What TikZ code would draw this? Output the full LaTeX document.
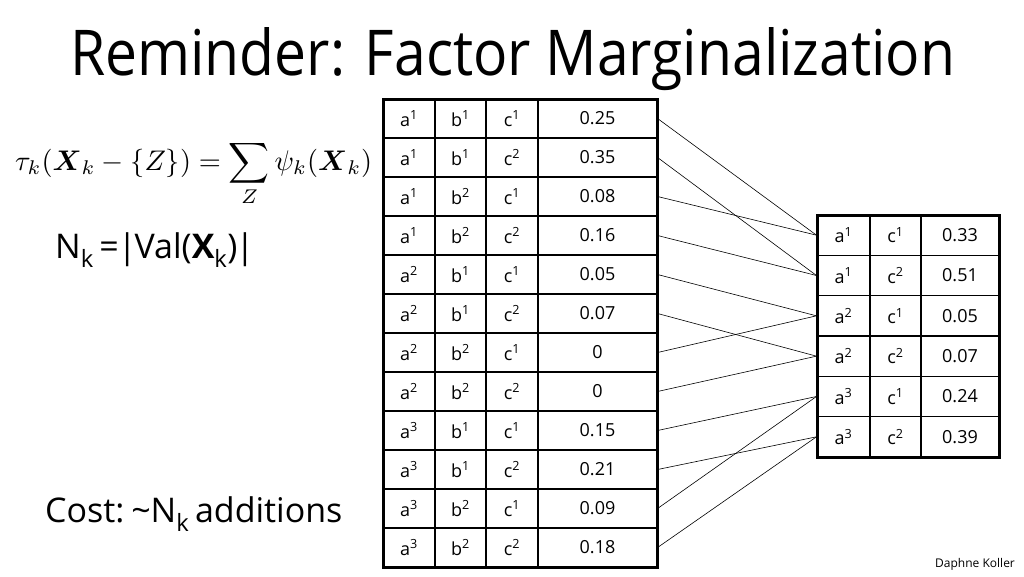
\documentclass[tikz,border=0pt]{standalone}
\usepackage{amsmath}
\usepackage{fontspec}
\setmainfont{Open Sans}
\begin{document}
\begin{tikzpicture}[x=1pt,y=-1pt,
  cell/.style={draw, line width=1.1pt, minimum height=39pt, inner sep=0pt,
               font=\fontsize{18}{18}\selectfont},
  rcell/.style={cell, minimum height=40.33pt},
  border/.style={draw, line width=3pt},
  link/.style={draw, line width=0.6pt},
  txt/.style={inner sep=0pt, anchor=base west}]
\useasboundingbox[fill=white] (0,0) rectangle (1024,576);

% title
\node[txt] (title) at (70,75) {\resizebox{885pt}{48pt}{Reminder: Factor Marginalization}};

% formula
\node[txt] (formula) at (15,170) {\resizebox{357pt}{!}{$\displaystyle \tau_k(\boldsymbol{X}_k-\{Z\})=\sum_Z \psi_k(\boldsymbol{X}_k)$}};

\node[txt, font=\fontsize{34}{34}\selectfont] (nk) at (55,258)
  {N\textsubscript{k}\,=\kern-1pt|\kern-2pt Val(\textbf{X}\textsubscript{k})\kern-2pt|};
\node[txt, font=\fontsize{34}{34}\selectfont] (cost) at (45,522)
  {Cost:\kern-2pt\ \textasciitilde N\textsubscript{k}\,additions};
\node[txt, font=\fontsize{12}{12}\selectfont] (author) at (935,567) {Daphne Koller};

% left table
\foreach \aa/\bb/\cc/\val [count=\i] in
 {1/1/1/0.25, 1/1/2/0.35, 1/2/1/0.08, 1/2/2/0.16,
  2/1/1/0.05, 2/1/2/0.07, 2/2/1/0, 2/2/2/0,
  3/1/1/0.15, 3/1/2/0.21, 3/2/1/0.09, 3/2/2/0.18}{
  \pgfmathsetmacro\yy{99+39*(\i-0.5)}
  \node[cell, minimum width=52pt] (La\i) at (409,\yy) {a\textsuperscript{\aa}};
  \node[cell, minimum width=51pt] (Lb\i) at (460.5,\yy) {b\textsuperscript{\bb}};
  \node[cell, minimum width=52pt] (Lc\i) at (512,\yy) {c\textsuperscript{\cc}};
  \node[cell, minimum width=119pt] (L\i) at (597.5,\yy) {\val};
}
\draw[border] (383,99) rectangle (657,567);

% right table
\foreach \aa/\cc/\val [count=\i] in
 {1/1/0.33, 1/2/0.51, 2/1/0.05, 2/2/0.07, 3/1/0.24, 3/2/0.39}{
  \pgfmathsetmacro\yy{215+40.33*(\i-0.5)}
  \node[rcell, minimum width=53pt] (R\i) at (843.5,\yy) {a\textsuperscript{\aa}};
  \node[rcell, minimum width=51pt] (Rc\i) at (895.5,\yy) {c\textsuperscript{\cc}};
  \node[rcell, minimum width=78pt] (Rv\i) at (960,\yy) {\val};
}
\draw[border] (817,215) rectangle (999,457);

% connectors
\foreach \s/\t in {1/1,2/2,3/1,4/2,5/3,6/4,7/3,8/4,9/5,10/6,11/5,12/6}
  \draw[link] (L\s.east) -- (R\t.west);
\end{tikzpicture}
\end{document}
